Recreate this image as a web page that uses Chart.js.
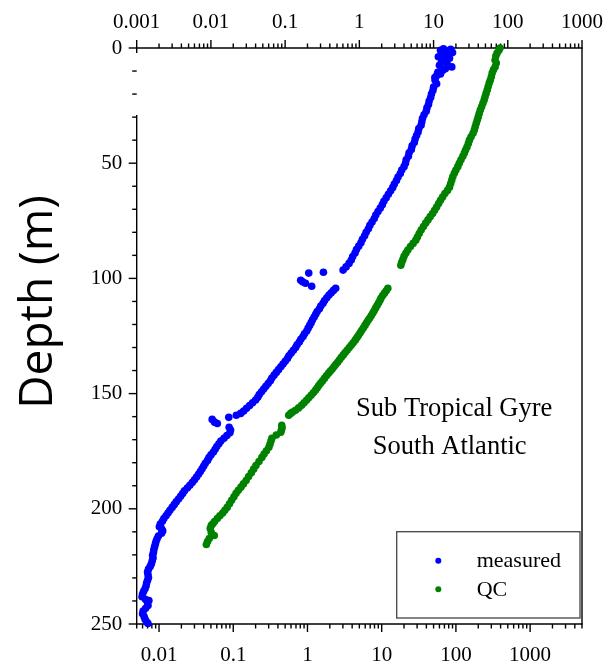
<!DOCTYPE html>
<html><head><meta charset="utf-8">
<script src="https://cdn.jsdelivr.net/npm/chart.js@4.4.1/dist/chart.umd.min.js"></script>
<style>html,body{margin:0;padding:0;background:#fff}</style>
</head><body>
<canvas id="c" width="616" height="670" style="display:block;width:616px;height:670px"></canvas>
<script>
// ---- data ----
const measuredDepth = [0.3,0.6,1.0,1.5,2.0,2.5,3.2,3.8,4.5,5.2,6.0,6.8,7.5,8.2,9.0,9.8,10.5,11.3,12.0,12.8,
 14,15.5,17,18.5,20,21.5,23,24.5,26,27.5,29,30.5,32,33.5,35,36.5,38,39.5,41,42.5,44,45.5,47,48.5,50,51.5,53,54.5,56,57.5,59,60.5,62,63.5,65,66.5,68,69.5,71,72.5,74,75.5,77,78.5,80,81.5,83,84.5,86,87.5,89,90.5,92,93.5,95,96.4,
 97.3,97.7,100.8,101.5,102.1,103.4,
 104.3,105.2,106.2,107.2,108.4,109.6,110.8,112.0,113.2,114.4,115.6,116.8,118.0,119.2,120.4,121.6,122.8,124.0,125.2,126.4,127.6,128.8,130.0,131.2,132.4,133.6,134.8,136.0,137.2,138.4,139.6,140.8,142.0,143.2,144.4,145.6,146.8,148.0,149.2,150.4,151.6,152.8,154.0,155.2,156.4,157.6,158.6,159.4,160.3,
 161.2,162.4,163.0,
 164.6,165.8,167.0,168.2,169.4,170.6,171.8,173.0,174.2,175.4,176.6,177.8,179.0,180.2,181.4,182.6,183.8,185.0,186.2,187.4,188.6,189.8,191.0,192.2,193.4,194.6,195.8,197.0,198.2,199.4,200.6,201.8,203.0,204.2,205.4,206.6,207.8,208.6,209.6,210.6,211.8,213.0,214.2,215.4,216.6,217.8,219.0,220.2,221.4,222.6,223.8,225.0,226.2,227.4,228.6,229.8,231.0,232.2,233.4,234.6,235.8,237.0,238.2,239.4,239.8,240.8,242.0,243.2,244.4,245.6,246.8,248.0,249.0,249.8];
const measuredValue = [68,85,62,78,90,66,74,58,82,70,64,76,60,88,72,66,57,62,55,52,
 52.5,55,50,49,46.8,45.7,43.6,42.7,40.7,39.8,37.2,35.5,34.7,33.9,31.6,30.9,29.5,28.2,27.5,25.7,25.1,23.4,22.9,21.4,20.9,20.0,18.6,17.8,16.6,15.8,14.8,14.1,13.2,12.3,11.5,10.7,10.2,9.55,8.91,8.32,7.94,7.41,6.92,6.61,6.17,5.89,5.50,5.25,4.90,4.57,4.37,4.07,3.89,3.63,3.31,3.02,
 1.64,1.04,0.81,0.86,0.94,1.14,
 2.40,2.24,2.09,1.95,1.82,1.70,1.62,1.51,1.45,1.35,1.29,1.23,1.17,1.12,1.07,1.02,0.977,0.912,0.871,0.813,0.776,0.724,0.692,0.646,0.603,0.562,0.537,0.501,0.468,0.437,0.407,0.380,0.355,0.331,0.316,0.295,0.275,0.257,0.240,0.224,0.214,0.200,0.182,0.166,0.151,0.138,0.126,0.110,0.087,
 0.052,0.056,0.061,
 0.088,0.092,0.090,0.082,0.075,0.068,0.064,0.060,0.057,0.054,0.050,0.047,0.045,0.042,0.040,0.038,0.036,0.034,0.032,0.030,0.028,0.026,0.024,0.022,0.0208,0.0195,0.0183,0.0170,0.0160,0.0150,0.0140,0.0132,0.0124,0.0116,0.0111,0.0104,0.0101,0.0108,0.0112,0.0108,0.0098,0.0094,0.0091,0.0089,0.0087,0.0085,0.0084,0.0082,0.0083,0.0081,0.0079,0.0076,0.0072,0.0070,0.0071,0.0072,0.0070,0.0068,0.0067,0.0065,0.0062,0.0060,0.0059,0.0066,0.0073,0.0070,0.0071,0.0066,0.0061,0.0060,0.0063,0.0065,0.0068,0.0071];

const qcDepth = [0,1,2.2,3.5,5.2,6.5,8.3,9.5,10.9,12.5,14,15.2,16.7,18.2,19.7,21.2,22.6,24,25.5,26.9,28.4,29.9,31.3,32.7,34.2,35.6,37,38.5,40,41.5,43,44.3,45.6,47,48.5,50,51.5,53,54.3,55.8,57.3,58.8,60.4,61.8,63.2,64.7,66.1,67.5,69,70.4,71.8,73.2,74.6,76,77.5,79,80.5,82,83.4,84.8,86.2,87.7,89,90.4,91.8,93,94.3,
 104.3,105.4,106.4,107.4,108.5,109.5,110.6,111.7,112.8,113.9,115.0,116.1,117.2,118.2,119.3,120.4,121.5,122.6,123.7,124.8,125.8,126.8,127.9,129.0,130.1,131.2,132.2,133.2,134.2,135.3,136.4,137.4,138.4,139.4,140.3,141.2,142.3,143.4,144.5,145.5,146.5,147.6,148.6,149.6,150.7,151.8,152.9,154.0,155.1,156.2,157.2,158.0,158.6,159.4,
 163.8,164.8,165.8,166.8,168.0,169.4,170.6,172.0,173.3,174.8,176.2,177.7,179.5,181.2,182.8,184.4,186.0,187.7,189.2,190.6,192.0,193.3,194.8,196.3,197.8,199.4,200.6,201.8,203.0,204.2,205.5,206.5,207.2,208.5,210.3,211.6,212.9,214.2,215.5];
const qcValue = [393,380,359,345,337,350,337,320,308,300,290,281,272,264,255,247,240,231,222,213,206,200,194,188,182,177,170,160,152,147,141,135,130,124,117,111,106,100,95.5,91,88,85,81.9,77,71,66.1,62,58.5,55,51.6,48.5,45,42,39.2,36.5,34,32,30.3,28.8,26.5,24.4,22.5,21.2,20.0,19.3,18.6,18.1,
 12.1,11.5,10.9,10.3,9.8,9.49,9.1,8.7,8.3,7.95,7.6,7.25,6.9,6.56,6.25,5.95,5.65,5.36,5.1,4.85,4.62,4.40,4.13,3.88,3.64,3.42,3.22,3.04,2.86,2.70,2.55,2.40,2.27,2.14,2.02,1.92,1.80,1.69,1.59,1.50,1.42,1.35,1.28,1.20,1.12,1.04,0.97,0.90,0.834,0.76,0.69,0.63,0.594,0.559,
 0.450,0.455,0.445,0.437,0.38,0.331,0.322,0.312,0.302,0.28,0.26,0.243,0.222,0.202,0.188,0.175,0.161,0.149,0.137,0.127,0.117,0.109,0.102,0.095,0.089,0.0828,0.077,0.072,0.066,0.0609,0.056,0.053,0.0506,0.049,0.0506,0.0555,0.0475,0.045,0.0434];

const seriesNames = ['measured', 'QC'];
const seriesColors = ['#0000ff', '#008200'];
const bottomTickLabels = [0.01, 0.1, 1, 10, 100, 1000];
const topTickLabels = [0.001, 0.01, 0.1, 1, 10, 100, 1000];
const depthTickLabels = [0, 50, 100, 150, 200, 250];
const bottomRange = [0.005, 5000];
const topRange = [0.001, 1000];
const depthRange = [0, 250];
const depthMinorStep = 10;
const annotationLines = ['Sub Tropical Gyre', 'South Atlantic'];
const yTitle = 'Depth (m)';

// ---- chart ----
const SERIF = '"Liberation Serif", "Times New Roman", serif';
const toPoints = (ds, vs) => ds.map((d, i) => ({x: vs[i], y: d}));

const framePlugin = {
  id: 'frame',
  beforeDatasetsDraw(chart) {
    const {ctx, chartArea: ca, scales} = chart;
    const xb = scales.x, xt = scales.x2, y = scales.y;
    ctx.save();
    ctx.strokeStyle = '#000';
    ctx.lineWidth = 1.4;
    const line = (x1, y1, x2, y2) => { ctx.beginPath(); ctx.moveTo(x1, y1); ctx.lineTo(x2, y2); ctx.stroke(); };
    line(ca.left - 0.7, ca.top, ca.right + 0.7, ca.top);
    line(ca.left - 0.7, ca.bottom, ca.right + 0.7, ca.bottom);
    line(ca.right, ca.top, ca.right, ca.bottom);
    line(ca.left, y.getPixelForValue(30) - 2, ca.left, ca.bottom);
    line(ca.left, ca.top, ca.left, ca.top + 5);
    const logTicks = (scale, yPos, dir) => {
      const lo = Math.floor(Math.log10(scale.min)), hi = Math.ceil(Math.log10(scale.max));
      for (let k = lo; k <= hi; k++) {
        for (let m = 1; m < 10; m++) {
          const v = m * Math.pow(10, k);
          if (v < scale.min * 0.999 || v > scale.max * 1.001) continue;
          const px = scale.getPixelForValue(v);
          line(px, yPos, px, yPos + dir * (m === 1 ? 8 : 4.5));
        }
      }
    };
    logTicks(xt, ca.top, -1);
    logTicks(xb, ca.bottom, 1);
    for (let d = depthRange[0]; d <= depthRange[1]; d += depthMinorStep) {
      const py = y.getPixelForValue(d);
      line(ca.left, py, ca.left - (d % 50 === 0 ? 8 : 4.5), py);
    }
    ctx.restore();
  },
  afterDatasetsDraw(chart) {
    const {ctx, chartArea: ca} = chart;
    ctx.save();
    // annotation
    ctx.fillStyle = '#000';
    ctx.font = '26.5px ' + SERIF;
    ctx.textAlign = 'center';
    ctx.textBaseline = 'alphabetic';
    ctx.fillText(annotationLines[0], ca.left + 317.5, ca.top + 368);
    ctx.fillText(annotationLines[1], ca.left + 313, ca.top + 406);
    // legend box
    const bx = ca.left + 260, by = ca.top + 483.7, bw = 183.3, bh = 86.3;
    ctx.strokeStyle = '#444';
    ctx.lineWidth = 1.3;
    ctx.strokeRect(bx, by, bw, bh);
    ctx.font = '22px ' + SERIF;
    ctx.textAlign = 'left';
    chart.data.datasets.forEach((ds, i) => {
      const cy = by + 29 + i * 28.6;
      ctx.fillStyle = ds.backgroundColor;
      ctx.beginPath(); ctx.arc(bx + 41.6, cy, 3, 0, Math.PI * 2); ctx.fill();
      ctx.fillStyle = '#000';
      ctx.textBaseline = 'middle';
      ctx.fillText(ds.label, bx + 80, cy + 1);
    });
    // y title
    ctx.translate(52, 302);
    ctx.rotate(-Math.PI / 2);
    ctx.font = '46px "Open Sans", "Noto Sans", sans-serif';
    ctx.textAlign = 'center';
    ctx.textBaseline = 'alphabetic';
    ctx.fillStyle = '#000';
    ctx.fillText(yTitle, 0, 0);
    ctx.restore();
  }
};

const tickFont = {family: SERIF, size: 21};
const fmt = v => String(v);

new Chart(document.getElementById('c'), {
  type: 'scatter',
  data: {
    datasets: [
      {label: seriesNames[0], data: toPoints(measuredDepth, measuredValue), backgroundColor: seriesColors[0],
       pointRadius: 3.8, borderWidth: 0, xAxisID: 'x', yAxisID: 'y', clip: false},
      {label: seriesNames[1], data: toPoints(qcDepth, qcValue), backgroundColor: seriesColors[1],
       pointRadius: 3.8, borderWidth: 0, xAxisID: 'x', yAxisID: 'y', clip: false}
    ]
  },
  options: {
    responsive: false,
    animation: false,
    devicePixelRatio: 1,
    layout: {padding: {left: 0, right: 30.7, top: 0, bottom: 0}},
    plugins: {legend: {display: false}, tooltip: {enabled: false}},
    scales: {
      x: {
        type: 'logarithmic', position: 'bottom', min: bottomRange[0], max: bottomRange[1],
        grid: {display: false, drawTicks: false}, border: {display: false},
        ticks: {font: tickFont, color: '#000', padding: 19, autoSkip: false, maxRotation: 0, callback: fmt},
        afterBuildTicks: s => { s.ticks = bottomTickLabels.map(v => ({value: v})); },
        afterFit: s => { s.height = 46; }
      },
      x2: {
        type: 'logarithmic', position: 'top', min: topRange[0], max: topRange[1],
        grid: {display: false, drawTicks: false}, border: {display: false},
        ticks: {font: tickFont, color: '#000', padding: 13, autoSkip: false, maxRotation: 0, callback: fmt},
        afterBuildTicks: s => { s.ticks = topTickLabels.map(v => ({value: v})); },
        afterFit: s => { s.height = 48; }
      },
      y: {
        type: 'linear', reverse: true, min: depthRange[0], max: depthRange[1],
        grid: {display: false, drawTicks: false}, border: {display: false},
        ticks: {font: tickFont, color: '#000', padding: 14.5, autoSkip: false, callback: fmt},
        afterBuildTicks: s => { s.ticks = depthTickLabels.map(v => ({value: v})); },
        afterFit: s => { s.width = 136.7; }
      }
    }
  },
  plugins: [framePlugin]
});
</script>
</body></html>
